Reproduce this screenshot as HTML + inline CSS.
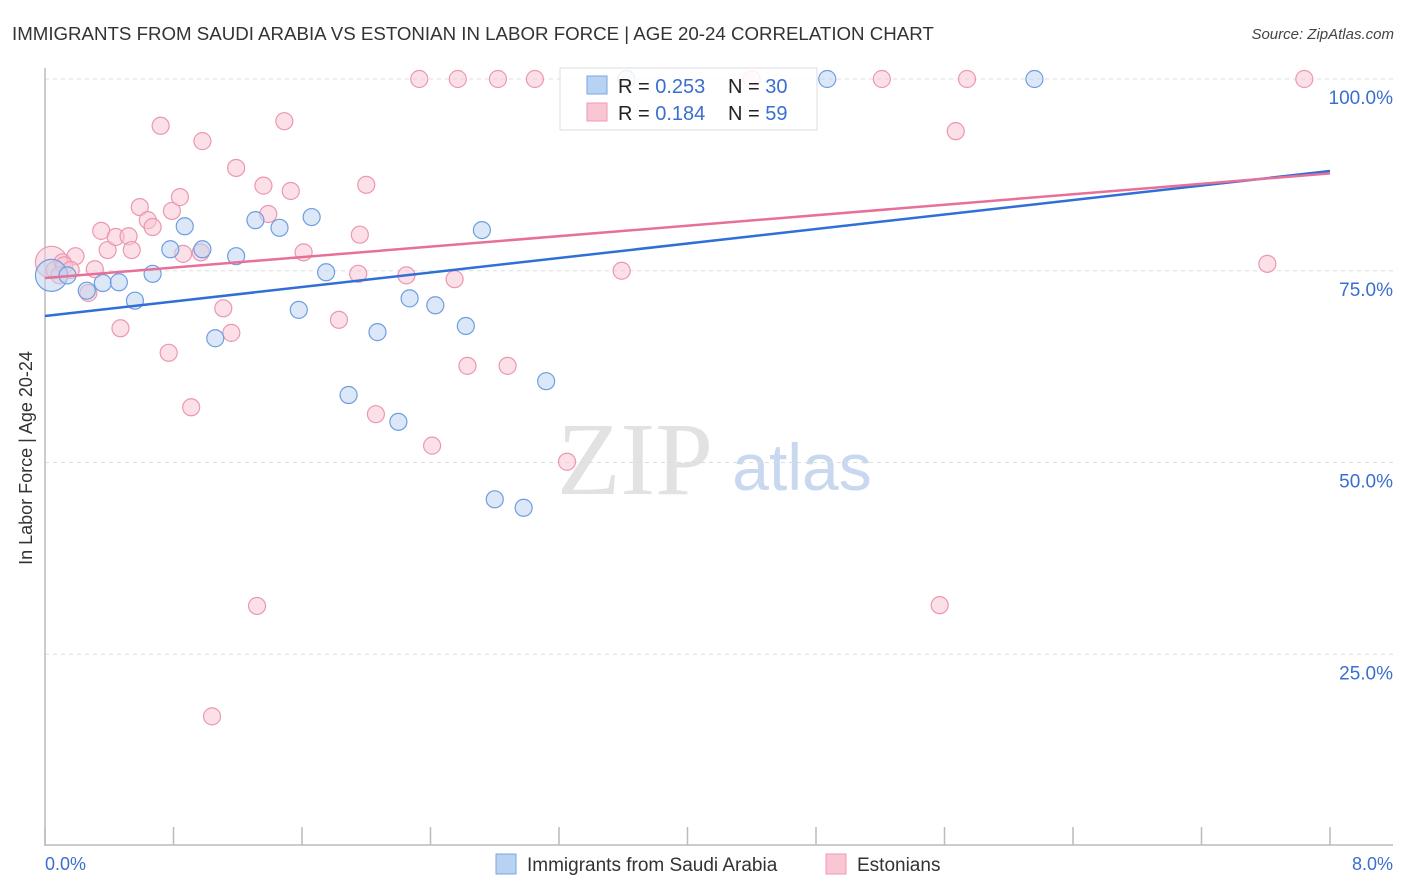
<!DOCTYPE html>
<html><head><meta charset="utf-8"><style>
body{margin:0;background:#fff;font-family:"Liberation Sans",sans-serif}
svg{display:block}
</style></head><body>
<svg id="chart" width="1406" height="892" viewBox="0 0 1406 892" xmlns="http://www.w3.org/2000/svg">
<text x="12" y="40" font-size="18.7" fill="#333">IMMIGRANTS FROM SAUDI ARABIA VS ESTONIAN IN LABOR FORCE | AGE 20-24 CORRELATION CHART</text>
<text x="1394" y="39" font-size="15" fill="#444" font-style="italic" text-anchor="end">Source: ZipAtlas.com</text>
<text x="32" y="458" font-size="18" fill="#333" text-anchor="middle" transform="rotate(-90 32 458)">In Labor Force | Age 20-24</text>
<g>
<text x="635" y="494" font-size="104" fill="#e2e2e2" font-family="Liberation Serif,serif" text-anchor="middle">ZIP</text>
<text x="802" y="490" font-size="66" fill="#c8d8ee" text-anchor="middle">atlas</text>
</g>
<g id="grid"></g>
<g id="axes"></g>
<g id="pts"></g>
<g id="lines"></g>
<g>
<rect x="560" y="68" width="257" height="62" fill="#fff" fill-opacity="0.85" stroke="#ddd"/>
<rect x="587" y="76" width="20" height="18" fill="#b8d2f4" stroke="#7aa6e0"/>
<rect x="587" y="103" width="20" height="18" fill="#f9c6d4" stroke="#ee9ab3"/>
<text x="618" y="93" font-size="20" fill="#222">R = <tspan fill="#3a6fd0">0.253</tspan></text>
<text x="728" y="93" font-size="20" fill="#222">N = <tspan fill="#3a6fd0">30</tspan></text>
<text x="618" y="120" font-size="20" fill="#222">R = <tspan fill="#3a6fd0"> 0.184</tspan></text>
<text x="728" y="120" font-size="20" fill="#222">N = <tspan fill="#3a6fd0"> 59</tspan></text>
</g>
<g>
<rect x="496" y="854" width="20" height="20" fill="#b8d2f4" stroke="#7aa6e0"/>
<text x="527" y="871" font-size="19" fill="#333">Immigrants from Saudi Arabia</text>
<rect x="826" y="854" width="20" height="20" fill="#f9c6d4" stroke="#ee9ab3"/>
<text x="857" y="871" font-size="19" fill="#333">Estonians</text>
</g>
</svg>
<script>
const yTicks=[100,75,50,25];
const yTickLabels=["100.0%","75.0%","50.0%","25.0%"];
const xTicks=[0,0.8,1.6,2.4,3.2,4,4.8,5.6,6.4,7.2,8];
const blueX=[0.04,0.14,0.26,0.36,0.46,0.56,0.67,0.78,0.87,0.98,1.06,1.19,1.31,1.46,1.58,1.66,1.75,1.89,2.07,2.20,2.27,2.43,2.62,2.72,2.80,2.98,3.12,3.62,4.87,6.16];
const blueY=[74.4,74.4,72.4,73.4,73.5,71.1,74.6,77.8,80.8,77.8,66.2,76.9,81.6,80.6,69.9,82.0,74.8,58.8,67.0,55.3,71.4,70.5,67.8,80.3,45.2,44.1,60.6,100,100,100];
const pinkX=[0.04,0.06,0.11,0.19,0.27,0.31,0.35,0.39,0.44,0.47,0.52,0.54,0.59,0.64,0.67,0.72,0.77,0.79,0.84,0.86,0.91,0.97,0.98,1.04,1.11,1.16,1.19,1.32,1.36,1.39,1.49,1.53,1.61,1.83,1.95,1.96,2.00,2.06,2.25,2.33,2.41,2.55,2.57,2.63,2.82,2.88,3.05,3.25,3.59,4.40,5.21,5.57,5.67,5.74,7.61,7.84,0.12,0.16,0.09];
const pinkY=[76.1,75.1,76.1,76.9,72.1,75.2,80.2,77.7,79.4,67.5,79.5,77.7,83.3,81.6,80.7,93.9,64.3,82.8,84.6,77.2,57.2,77.4,91.9,16.9,70.1,66.9,88.4,31.3,86.1,82.4,94.5,85.4,77.4,68.6,74.6,79.7,86.2,56.3,74.4,100,52.2,73.9,100,62.6,100,62.6,100,50.1,75.0,100,100,31.4,93.2,100,75.9,100,75.7,75.1,74.4];
const blueTrend=[69.1,88.0];
const pinkTrend=[74.05,87.7];
const NS="http://www.w3.org/2000/svg";
const sx=v=>45+v/8*1285;
const sy=v=>846-v/100*767;
function mk(tag,attrs,parent){const e=document.createElementNS(NS,tag);for(const k in attrs)e.setAttribute(k,attrs[k]);parent.appendChild(e);return e;}
const grid=document.getElementById('grid'),axes=document.getElementById('axes'),pts=document.getElementById('pts'),lines=document.getElementById('lines');
yTicks.forEach((t,i)=>{
 const l=mk('line',{x1:45,x2:1393,y1:sy(t),y2:sy(t),stroke:'#ddd','stroke-dasharray':'4 4'},grid);
 
 
 const tx=mk('text',{x:1393,y:sy(t)+25,'font-size':19,fill:'#3a6fd0','text-anchor':'end'},axes);
 tx.textContent=yTickLabels[i];
 
 
});
let a=mk('line',{x1:45,x2:45,y1:68,y2:846,stroke:'#bbb','stroke-width':1.5},axes);


a=mk('line',{x1:45,x2:1393,y1:845,y2:845,stroke:'#bbb','stroke-width':1.5},axes);


xTicks.forEach(t=>{
 const l=mk('line',{x1:sx(t),x2:sx(t),y1:827,y2:845,stroke:'#bbb','stroke-width':1.5},axes);
 
 
});
let xl=mk('text',{x:45,y:870,'font-size':18,fill:'#3a6fd0'},axes);xl.textContent='0.0%';


xl=mk('text',{x:1393,y:870,'font-size':18,fill:'#3a6fd0','text-anchor':'end'},axes);xl.textContent='8.0%';


function drawPts(X,Y,fill,stroke,name){
 X.forEach((x,i)=>{
  const c=mk('circle',{cx:sx(x),cy:sy(Y[i]),r:i===0?16:8.5,fill:fill,'fill-opacity':0.55,stroke:stroke,'stroke-width':1.2},pts);
  
  
 });
}
drawPts(pinkX,pinkY,'#f9c6d4','#ec97b0','point-estonians');
drawPts(blueX,blueY,'#c0d6f3','#6d9ee0','point-saudi');
let tl=mk('line',{x1:sx(0),y1:sy(blueTrend[0]),x2:sx(8),y2:sy(blueTrend[1]),stroke:'#2f6fd6','stroke-width':2.5},lines);


tl=mk('line',{x1:sx(0),y1:sy(pinkTrend[0]),x2:sx(8),y2:sy(pinkTrend[1]),stroke:'#e76f98','stroke-width':2.5},lines);


</script>
</body></html>
